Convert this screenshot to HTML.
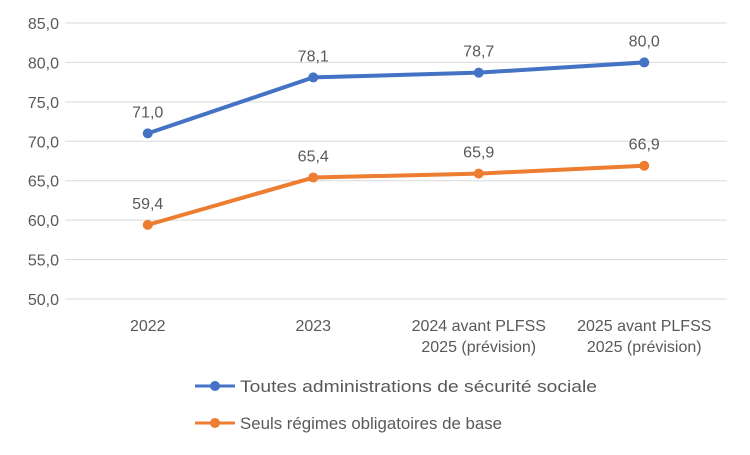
<!DOCTYPE html>
<html><head><meta charset="utf-8"><style>
body{margin:0;background:#fff;}
svg text{font-family:"Liberation Sans",sans-serif;fill:#595959;}
</style></head><body>
<svg id="chart" width="750" height="450">
<g id="grid"></g><g id="series"></g>
<g>
 <g>
  <line x1="195" y1="386" x2="235" y2="386" stroke="#4472C4" stroke-width="3"/>
  <circle cx="215" cy="386" r="5" fill="#4472C4"/>
  <text x="240" y="392" font-size="17" textLength="357" lengthAdjust="spacingAndGlyphs">Toutes administrations de sécurité sociale</text>
 </g>
 <g>
  <line x1="195" y1="423" x2="235" y2="423" stroke="#ED7D31" stroke-width="3"/>
  <circle cx="215" cy="423" r="5" fill="#ED7D31"/>
  <text x="240" y="429" font-size="17" textLength="262" lengthAdjust="spacingAndGlyphs">Seuls régimes obligatoires de base</text>
 </g>
</g>
</svg>
<script>
const categories=[["2022"],["2023"],["2024 avant PLFSS","2025 (prévision)"],["2025 avant PLFSS","2025 (prévision)"]];
const seriesToutes=[71.0,78.1,78.7,80.0];
const seriesSeuls=[59.4,65.4,65.9,66.9];
const yTicks=[50,55,60,65,70,75,80,85];
const NS="http://www.w3.org/2000/svg";
const plotLeft=65,plotRight=727,plotTop=23,plotBottom=299,yMin=50,yMax=85;
function yScale(v){return plotBottom-(v-yMin)/(yMax-yMin)*(plotBottom-plotTop);}
function xScale(i){const w=(plotRight-plotLeft)/categories.length;return plotLeft+w*(i+0.5);}
function mk(t,a,p){const e=document.createElementNS(NS,t);for(const k in a)e.setAttribute(k,a[k]);p.appendChild(e);return e;}
const grid=document.getElementById('grid');
yTicks.forEach(v=>{
 const l=mk('line',{x1:plotLeft,x2:plotRight,y1:yScale(v),y2:yScale(v),stroke:'#d9d9d9','stroke-width':1},grid);
 
 
 const t=mk('text',{x:plotLeft-6,y:yScale(v)+6,'text-anchor':'end','font-size':'16'},grid);
 t.textContent=v.toFixed(1).replace('.',',');
 
 
});
categories.forEach((c,i)=>{
 c.forEach((s,j)=>{
  const t=mk('text',{x:xScale(i),y:331+j*21,'text-anchor':'middle','font-size':'16'},grid);
  t.textContent=s;
  
  
 });
});
const sg=document.getElementById('series');
[[seriesToutes,'#4472C4','series-toutes'],[seriesSeuls,'#ED7D31','series-seuls']].forEach(([d,col,name])=>{
 const p=mk('polyline',{points:d.map((v,i)=>xScale(i)+','+yScale(v)).join(' '),fill:'none',stroke:col,'stroke-width':4,'stroke-linejoin':'round'},sg);
 
 
 d.forEach((v,i)=>{
  const c=mk('circle',{cx:xScale(i),cy:yScale(v),r:5,fill:col},sg);
  
  
  const t=mk('text',{x:xScale(i),y:yScale(v)-16,'text-anchor':'middle','font-size':'16'},sg);
  t.textContent=v.toFixed(1).replace('.',',');
  
  
 });
});
</script>
</body></html>
